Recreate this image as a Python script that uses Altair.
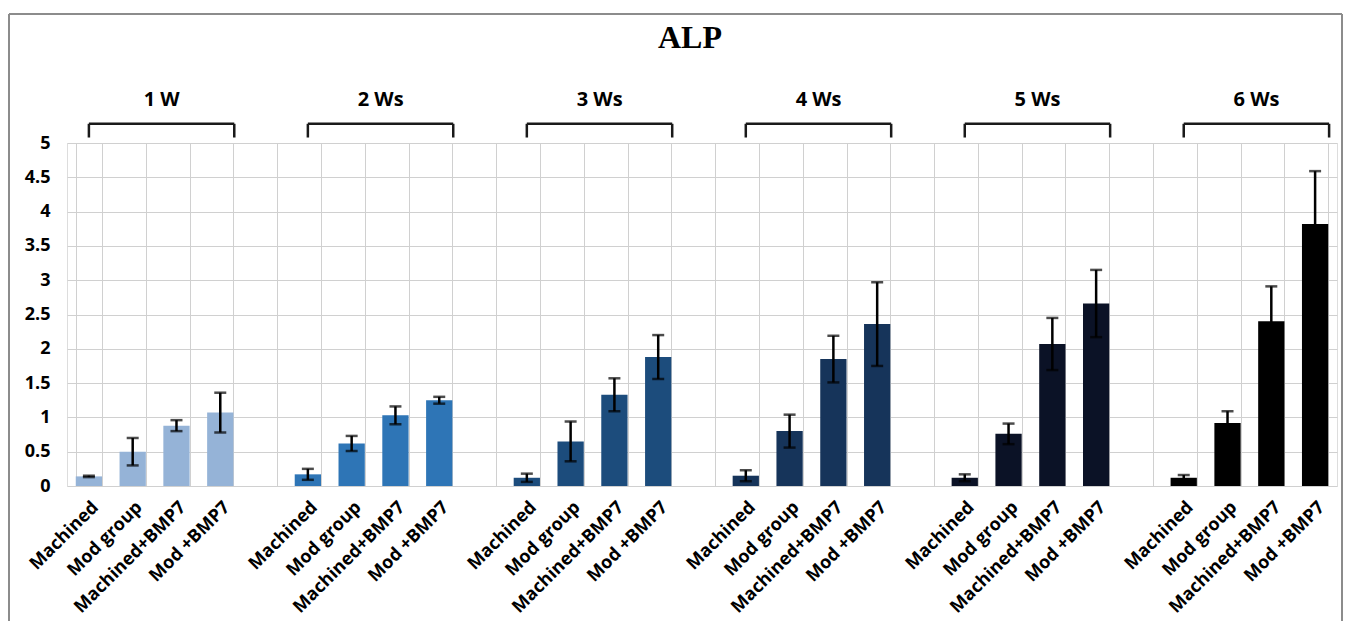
import altair as alt
import pandas as pd

TITLE = "ALP"
GROUPS = ["1 W", "2 Ws", "3 Ws", "4 Ws", "5 Ws", "6 Ws"]
TREATMENTS = ["Machined", "Mod group", "Machined+BMP7", "Mod +BMP7"]
COLORS = ["#95b3d7", "#2e75b6", "#1c4c7c", "#16345a", "#0b1226", "#000000"]

MEAN_1W = [0.14, 0.50, 0.88, 1.07]
MEAN_2W = [0.17, 0.62, 1.03, 1.25]
MEAN_3W = [0.12, 0.65, 1.33, 1.88]
MEAN_4W = [0.15, 0.80, 1.85, 2.36]
MEAN_5W = [0.12, 0.76, 2.07, 2.66]
MEAN_6W = [0.12, 0.92, 2.40, 3.82]

SD_1W = [0.01, 0.20, 0.08, 0.29]
SD_2W = [0.08, 0.11, 0.13, 0.05]
SD_3W = [0.06, 0.29, 0.24, 0.32]
SD_4W = [0.08, 0.24, 0.34, 0.61]
SD_5W = [0.05, 0.15, 0.38, 0.49]
SD_6W = [0.04, 0.17, 0.51, 0.77]

Y_TICKS = [0.0, 0.5, 1.0, 1.5, 2.0, 2.5, 3.0, 3.5, 4.0, 4.5, 5.0]

MEANS = [MEAN_1W, MEAN_2W, MEAN_3W, MEAN_4W, MEAN_5W, MEAN_6W]
SDS = [SD_1W, SD_2W, SD_3W, SD_4W, SD_5W, SD_6W]

rows = []
domain = []
brackets = []
for gi, g in enumerate(GROUPS):
    if gi > 0:
        domain.append(f"gap{gi}|")
    for ti, t in enumerate(TREATMENTS):
        key = f"{g}|{t}"
        domain.append(key)
        m = MEANS[gi][ti]
        s = SDS[gi][ti]
        rows.append(dict(key=key, group=g, treatment=t, mean=m, lo=m - s, hi=m + s))
    brackets.append(dict(group=g, first=f"{g}|{TREATMENTS[0]}",
                         last=f"{g}|{TREATMENTS[-1]}", mid=f"{g}|{TREATMENTS[1]}",
                         b_top=5.28, b_bot=5.08, b_lab=5.63))
df = pd.DataFrame(rows)
bdf = pd.DataFrame(brackets)
one = pd.DataFrame({"t": [TITLE]})

W, H = 1270, 343
FONT = "Open Sans"

xs = alt.Scale(domain=domain, paddingInner=0.4, paddingOuter=0.2)
ys = alt.Scale(domain=[0, 5], nice=False, zero=True)

x_axis = alt.Axis(
    title=None, labelExpr="split(datum.value, '|')[1]", labelAngle=-45,
    labelAlign="right", labelBaseline="top", labelPadding=12,
    labelFont=FONT, labelFontWeight="bold", labelFontSize=18, labelColor="black",
    ticks=False, domain=False, grid=True, tickBand="extent",
    gridColor="#d0d0d0", gridWidth=1, labelOverlap=False,
)
y_axis = alt.Axis(
    title=None, values=Y_TICKS, format="~g", labelFont=FONT, labelFontWeight="bold",
    labelFontSize=18, labelColor="black", labelPadding=17, ticks=False, domain=False,
    grid=True, gridColor="#d0d0d0", gridWidth=1, labelOverlap=False,
)


def X(f):
    return alt.X(f, scale=xs, axis=x_axis)


def Y(f):
    return alt.Y(f, scale=ys, axis=y_axis)


bars = alt.Chart(df).mark_bar().encode(
    x=X("key:N"),
    y=Y("mean:Q"),
    color=alt.Color("group:N", scale=alt.Scale(domain=GROUPS, range=COLORS), legend=None),
)
err = alt.Chart(df).mark_rule(color="black", strokeWidth=2.5).encode(
    x=X("key:N"), y=Y("lo:Q"), y2="hi:Q")
cap_hi = alt.Chart(df).mark_tick(color="black", thickness=2.5, size=12).encode(
    x=X("key:N"), y=Y("hi:Q"))
cap_lo = alt.Chart(df).mark_tick(color="black", thickness=2.5, size=12).encode(
    x=X("key:N"), y=Y("lo:Q"))

BR_COLOR = "#1a1a1a"
br_h = alt.Chart(bdf).mark_rule(color=BR_COLOR, strokeWidth=2.5, x2Offset=14).encode(
    x=X("first:N"), x2="last:N", y=Y("b_top:Q"))
br_l = alt.Chart(bdf).mark_rule(color=BR_COLOR, strokeWidth=2.5).encode(
    x=X("first:N"), y=Y("b_top:Q"), y2="b_bot:Q")
br_r = alt.Chart(bdf).mark_rule(color=BR_COLOR, strokeWidth=2.5, xOffset=14).encode(
    x=X("last:N"), y=Y("b_top:Q"), y2="b_bot:Q")
br_t = alt.Chart(bdf).mark_text(font=FONT, fontWeight="bold", fontSize=20, xOffset=29,
                                color="black").encode(
    x=X("mid:N"), y=Y("b_lab:Q"), text="group:N")

title = alt.Chart(one).mark_text(font="Liberation Serif", fontWeight="bold", fontSize=32,
                                 color="black").encode(
    x=alt.value(623), y=alt.value(-105), text="t:N")

FR = "#8c8c8c"
fr_l = alt.Chart(one).mark_rule(color=FR, strokeWidth=2).encode(
    x=alt.value(-58), y=alt.value(-129), y2=alt.value(H + 135))
fr_r = alt.Chart(one).mark_rule(color=FR, strokeWidth=2).encode(
    x=alt.value(W + 5), y=alt.value(-129), y2=alt.value(H + 135))
fr_t = alt.Chart(one).mark_rule(color=FR, strokeWidth=2).encode(
    x=alt.value(-58), x2=alt.value(W + 5), y=alt.value(-129))

chart = alt.layer(
    bars, err, cap_hi, cap_lo, br_h, br_l, br_r, br_t, title, fr_l, fr_r, fr_t
).properties(
    width=W, height=H,
    padding={"left": 0, "top": 5, "right": 0, "bottom": 0},
).configure_view(fill="#ededed", strokeWidth=0).configure(background="white")

chart.save("out.html", embed_options={"renderer": "svg", "actions": False})
